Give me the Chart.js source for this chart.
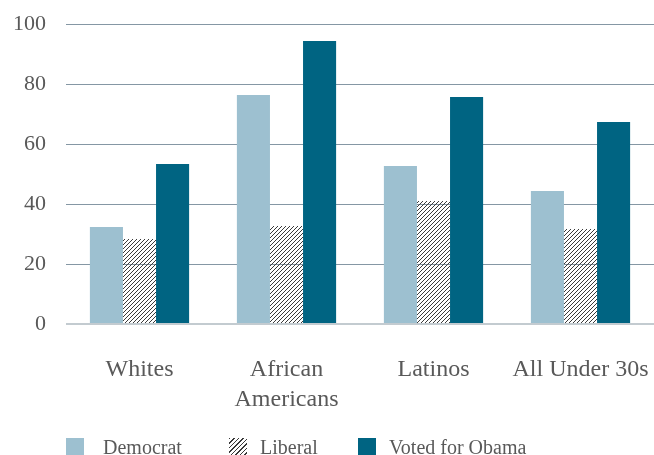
<!DOCTYPE html>
<html><head><meta charset="utf-8">
<script src="https://cdn.jsdelivr.net/npm/chart.js@4"></script>
<style>
html,body{margin:0;padding:0;background:#fff;overflow:hidden}
#wrap{position:relative;width:654px;height:455px}
canvas{display:block}
.lg{position:absolute;font:20px "Liberation Serif",serif;color:#595959;line-height:20px;white-space:nowrap}
.sw{position:absolute;width:18px;height:17px}
</style></head><body>
<div id="wrap"><canvas id="c" width="654" height="455"></canvas></div>
<script>
// ---- data ----
const categories = [['Whites'], ['African', 'Americans'], ['Latinos'], ['All Under 30s']];
const seriesNames = ['Democrat', 'Liberal', 'Voted for Obama'];
const democrat = [32.3, 76.3, 52.7, 44.3];
const liberal  = [28.3, 32.7, 41.0, 31.7];
const obama    = [53.3, 94.3, 75.7, 67.3];
const yTicks   = [0, 20, 40, 60, 80, 100];

const TXT = '#595959';
const FONT = '"Liberation Serif", serif';
const C_DEM = '#9dc0d0';
const C_OBA = '#006482';

function makeHatch(size, lw) {
  const c = document.createElement('canvas');
  c.width = size; c.height = size;
  const x = c.getContext('2d');
  x.strokeStyle = '#3a3a3a';
  x.lineWidth = lw;
  x.beginPath();
  x.moveTo(-1, size + 1); x.lineTo(size + 1, -1);
  x.moveTo(-1, 1); x.lineTo(1, -1);
  x.moveTo(size - 1, size + 1); x.lineTo(size + 1, size - 1);
  x.stroke();
  return c;
}
const hatchCanvas = makeHatch(4, 1);
const hatch = document.getElementById('c').getContext('2d').createPattern(hatchCanvas, 'repeat');

new Chart(document.getElementById('c'), {
  type: 'bar',
  data: {
    labels: categories,
    datasets: [
      { label: seriesNames[0], data: democrat, backgroundColor: C_DEM },
      { label: seriesNames[1], data: liberal, backgroundColor: hatch },
      { label: seriesNames[2], data: obama, backgroundColor: C_OBA }
    ]
  },
  options: {
    responsive: false,
    animation: false,
    events: [],
    layout: { padding: { top: 0, right: 0, bottom: 0, left: 0 } },
    datasets: { bar: { categoryPercentage: 0.675, barPercentage: 1.0, borderWidth: 0 } },
    plugins: { legend: { display: false }, tooltip: { enabled: false } },
    scales: {
      x: {
        grid: { display: true, drawOnChartArea: false, drawTicks: true, tickLength: 31, color: 'rgba(0,0,0,0)' },
        border: { display: false },
        ticks: { color: TXT, font: { family: FONT, size: 24, lineHeight: 1.25 }, padding: 0, maxRotation: 0, autoSkip: false },
        afterFit: s => { s.height = 131; }
      },
      y: {
        min: 0, max: 100,
        afterBuildTicks: s => { s.ticks = yTicks.map(v => ({ value: v })); },
        grid: {
          drawTicks: false,
          color: c => c.tick && c.tick.value === 0 ? '#c3cbd0' : '#8597a4',
          lineWidth: c => c.tick && c.tick.value === 0 ? 2 : 1
        },
        border: { display: false },
        ticks: { color: TXT, font: { family: FONT, size: 22, lineHeight: 0.364 }, padding: 20 },
        afterFit: s => { s.width = 66; }
      }
    }
  }
});

// ---- legend (HTML) ----
const wrap = document.getElementById('wrap');
const swLeft = [66, 229, 358];
const txLeft = [103, 260, 389];
seriesNames.forEach((name, i) => {
  const sw = document.createElement('div');
  sw.className = 'sw';
  sw.style.left = swLeft[i] + 'px';
  sw.style.top = '438px';
  if (i === 0) sw.style.background = C_DEM;
  else if (i === 2) sw.style.background = C_OBA;
  else sw.style.background = 'repeating-linear-gradient(135deg, #3a3a3a 0 1.3px, transparent 1.3px 3.2px)';
  wrap.appendChild(sw);
  const t = document.createElement('div');
  t.className = 'lg';
  t.style.left = txLeft[i] + 'px';
  t.style.top = '437px';
  t.textContent = name;
  wrap.appendChild(t);
});
</script>
</body></html>
